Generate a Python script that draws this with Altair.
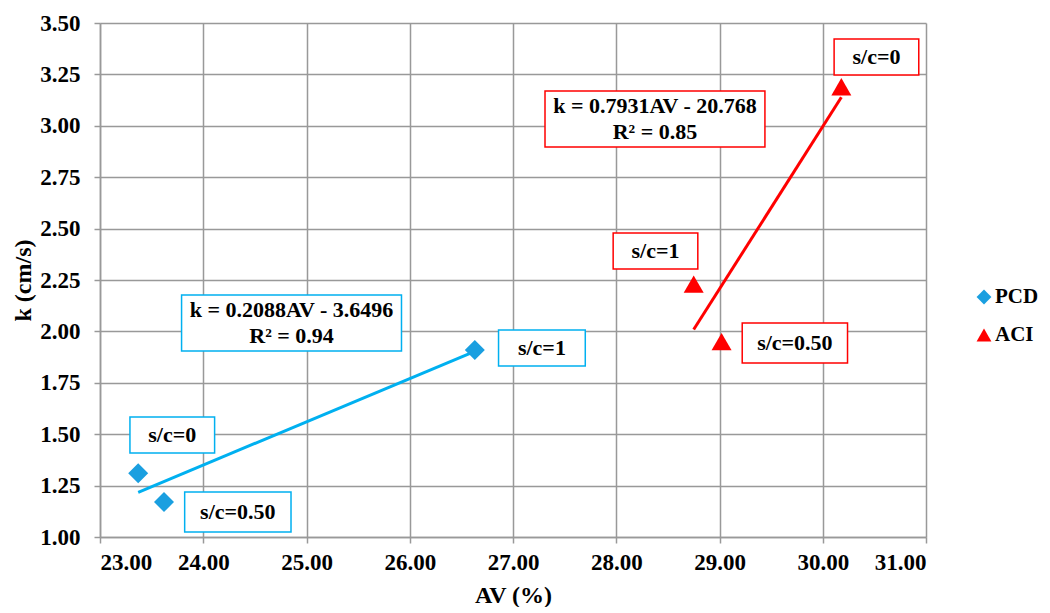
import altair as alt
import pandas as pd

# ---- data ----
series = ["PCD", "PCD", "PCD", "ACI", "ACI", "ACI"]
sc = ["s/c=0", "s/c=0.50", "s/c=1", "s/c=0", "s/c=1", "s/c=0.50"]
av = [23.37, 23.62, 26.63, 30.18, 28.75, 29.02]
kval = [1.31, 1.17, 1.91, 3.19, 2.23, 1.95]

# annotation boxes (data units)
lab_series = ["PCD", "PCD", "PCD", "PCD", "ACI", "ACI", "ACI", "ACI"]
lab_text = ["s/c=0", "s/c=0.50", "s/c=1", "k = 0.2088AV - 3.6496\nR² = 0.94",
            "s/c=0", "s/c=1", "s/c=0.50", "k = 0.7931AV - 20.768\nR² = 0.85"]
lab_lines = [1, 1, 1, 2, 1, 1, 1, 2]
lab_x1 = [23.29, 23.82, 26.86, 23.79, 30.11, 27.97, 29.22, 27.31]
lab_x2 = [24.11, 24.85, 27.70, 25.92, 30.93, 28.79, 30.24, 29.44]
lab_y1 = [1.409, 1.024, 1.832, 1.905, 3.247, 2.304, 1.846, 2.897]
lab_y2 = [1.584, 1.219, 2.007, 2.177, 3.422, 2.479, 2.041, 3.169]

x_ticks = [23, 24, 25, 26, 27, 28, 29, 30, 31]
y_ticks = [1.00, 1.25, 1.50, 1.75, 2.00, 2.25, 2.50, 2.75, 3.00, 3.25, 3.50]

legend_names = ["PCD", "ACI"]

pts = pd.DataFrame({"series": series, "sc": sc, "AV": av, "k": kval})
labs = pd.DataFrame({"grp": lab_series, "text": lab_text, "lines": lab_lines,
                     "x1": lab_x1, "x2": lab_x2, "y1": lab_y1, "y2": lab_y2})

FONT = "Liberation Serif"
dom = legend_names

xs = alt.Scale(domain=[23, 31], nice=False, zero=False)
ys = alt.Scale(domain=[1, 3.5], nice=False, zero=False)

axis_style = dict(
    labelFont=FONT, labelFontSize=23, labelFontWeight="bold", labelColor="black",
    titleFont=FONT, titleFontSize=24, titleFontWeight="bold", titleColor="black",
    domainColor="#999999", domainWidth=1.5, gridColor="#999999", gridWidth=1.5,
    tickColor="#999999", tickWidth=1.5, tickSize=6, grid=True,
)
xax = alt.Axis(values=x_ticks, format=".2f", title="AV (%)", labelPadding=8,
               titlePadding=9, **axis_style)
yax = alt.Axis(values=y_ticks, format=".2f", title="k (cm/s)", labelPadding=14,
               titlePadding=4, **axis_style)

stroke_scale = alt.Scale(domain=dom, range=["#00B0F0", "#FF0000"])
color_scale = alt.Scale(domain=dom, range=["#1A9FE0", "#FF0000"])
shape_scale = alt.Scale(domain=dom, range=["diamond", "triangle-up"])

boxes = alt.Chart(labs).mark_rect(fill="white", strokeWidth=1.5).encode(
    x=alt.X("x1:Q", scale=xs, axis=xax),
    x2="x2:Q",
    y=alt.Y("y1:Q", scale=ys, axis=yax),
    y2="y2:Q",
    stroke=alt.Stroke("grp:N", scale=stroke_scale, legend=None),
)

lines = alt.Chart(pts).transform_regression(
    "AV", "k", groupby=["series"]
).transform_calculate(grp="datum.series").mark_line(strokeWidth=3).encode(
    x=alt.X("AV:Q", scale=xs),
    y=alt.Y("k:Q", scale=ys),
    stroke=alt.Stroke("grp:N", scale=stroke_scale, legend=None),
)

points = alt.Chart(pts).mark_point(filled=True, size=400, opacity=1).encode(
    x=alt.X("AV:Q", scale=xs),
    y=alt.Y("k:Q", scale=ys),
    color=alt.Color("series:N", scale=color_scale, legend=None),
    shape=alt.Shape("series:N", scale=shape_scale, legend=None),
)

text_base = alt.Chart(labs).transform_calculate(
    cx="(datum.x1 + datum.x2) / 2", cy="(datum.y1 + datum.y2) / 2"
)
text_enc = dict(x=alt.X("cx:Q", scale=xs), y=alt.Y("cy:Q", scale=ys), text="text:N")

texts1 = text_base.transform_filter("datum.lines == 1").mark_text(
    font=FONT, fontSize=22, fontWeight="bold", color="black", baseline="middle"
).encode(**text_enc)

texts2 = text_base.transform_filter("datum.lines == 2").mark_text(
    font=FONT, fontSize=22, fontWeight="bold", color="black", baseline="middle",
    lineBreak="\n", lineHeight=26, dy=-13
).encode(**text_enc)

# legend drawn with marks (one entry per series), placed right of the plot
legend_layers = []
for i, name in enumerate(legend_names):
    ldf = pd.DataFrame({"series": [name]})
    ypix = 274 + 38 * i
    sym = alt.Chart(ldf).mark_point(filled=True, size=220, opacity=1).encode(
        x=alt.value(884), y=alt.value(ypix),
        color=alt.Color("series:N", scale=color_scale, legend=None),
        shape=alt.Shape("series:N", scale=shape_scale, legend=None),
    )
    lab = alt.Chart(ldf).mark_text(
        font=FONT, fontSize=21, fontWeight="bold", color="black",
        align="left", baseline="middle"
    ).encode(x=alt.value(895), y=alt.value(ypix), text="series:N")
    legend_layers += [sym, lab]

chart = alt.layer(boxes, lines, points, texts1, texts2, *legend_layers).properties(
    width=826, height=514,
    padding={"left": 3, "top": 4, "right": 0, "bottom": 0},
).configure_view(stroke=None)

chart.save("out.html", embed_options={"renderer": "svg", "actions": False})
